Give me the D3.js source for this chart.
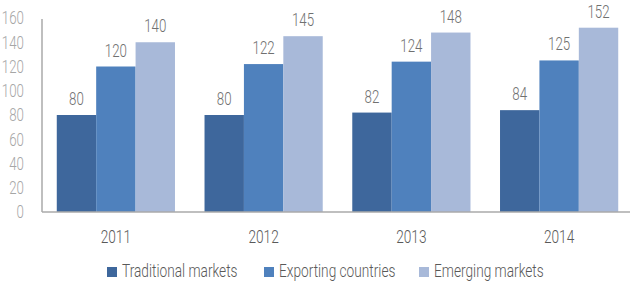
<!DOCTYPE html>
<html>
<head>
<meta charset="utf-8">
<script src="https://cdn.jsdelivr.net/npm/d3@7"></script>
<style>
  body { margin: 0; background: #fff; }
  text { font-family: Roboto, "Noto Sans", sans-serif; font-weight: 300; }
</style>
</head>
<body>
<svg width="630" height="292"></svg>
<script>
// chart data
var years = ['2011', '2012', '2013', '2014'];
var seriesNames = ['Traditional markets', 'Exporting countries', 'Emerging markets'];
var traditional = [80, 80, 82, 84];
var exporting = [120, 122, 124, 125];
var emerging = [140, 145, 148, 152];
var yTicks = [0, 20, 40, 60, 80, 100, 120, 140, 160];

var colors = ['#3e679c', '#4f81bd', '#a8b9d9'];
var series = [traditional, exporting, emerging];

var svg = d3.select('svg');
var padding = {t: 18, r: -3, b: 80, l: 42};
var svgWidth = +svg.attr('width');
var squeeze = 0.76; // condensed look

var x0 = d3.scaleBand()
    .domain(years)
    .range([padding.l, svgWidth - padding.r])
    .paddingInner(0.2)
    .paddingOuter(0.1);

var x1 = d3.scaleBand()
    .domain(d3.range(series.length))
    .range([0, x0.bandwidth()]);

var y = d3.scaleLinear()
    .domain([0, 160])
    .range([212, 18]);

// y tick labels
svg.append('g').selectAll('text')
    .data(yTicks)
    .enter().append('text')
    .attr('x', 24)
    .attr('y', function(d) { return y(d); })
    .attr('dy', '0.36em')
    .attr('text-anchor', 'end')
    .attr('fill', '#a6a6a6')
    .style('font-size', '17.5px')
    .text(function(d) { return d; });

// bars
var groups = svg.append('g').selectAll('g')
    .data(years)
    .enter().append('g')
    .attr('transform', function(d) { return 'translate(' + x0(d) + ',0)'; });

function cells(d, i) {
    return series.map(function(s, k) { return {k: k, v: s[i]}; });
}

groups.selectAll('rect')
    .data(cells)
    .enter().append('rect')
    .attr('x', function(d) { return x1(d.k); })
    .attr('y', function(d) { return y(d.v); })
    .attr('width', x1.bandwidth())
    .attr('height', function(d) { return y(0) - y(d.v); })
    .attr('fill', function(d) { return colors[d.k]; });

groups.selectAll('text.val')
    .data(cells)
    .enter().append('text')
    .attr('class', 'val')
    .attr('x', function(d) { return x1(d.k) + x1.bandwidth() / 2; })
    .attr('y', function(d) { return y(d.v) - 10; })
    .attr('text-anchor', 'middle')
    .attr('fill', '#707070')
    .style('font-size', '17.5px')
    .text(function(d) { return d.v; });

// axes lines
svg.append('line')
    .attr('x1', padding.l).attr('x2', padding.l)
    .attr('y1', 19).attr('y2', y(0))
    .attr('stroke', '#aaa').attr('stroke-width', 1.5);
svg.append('line')
    .attr('x1', padding.l).attr('x2', svgWidth)
    .attr('y1', y(0)).attr('y2', y(0))
    .attr('stroke', '#aaa').attr('stroke-width', 1.5);

// year labels
svg.append('g').selectAll('text')
    .data(years)
    .enter().append('text')
    .attr('x', function(d) { return x0(d) + x0.bandwidth() / 2; })
    .attr('y', 243)
    .attr('text-anchor', 'middle')
    .attr('fill', '#595959')
    .style('font-size', '18px')
    .text(function(d) { return d; });

// legend
var legendX = [107, 264, 419];
var legend = svg.append('g').selectAll('g')
    .data(seriesNames)
    .enter().append('g')
    .attr('transform', function(d, i) { return 'translate(' + legendX[i] + ',267)'; });
legend.append('rect')
    .attr('width', 10).attr('height', 10)
    .attr('fill', function(d, i) { return colors[i]; });
legend.append('text')
    .attr('x', 15)
    .attr('y', 10)
    .attr('fill', '#595959')
    .style('font-size', '18px')
    .text(function(d) { return d; });

// narrow every label to mimic the condensed face
svg.selectAll('text').each(function() {
    var w = this.getComputedTextLength();
    d3.select(this)
        .attr('textLength', w * squeeze)
        .attr('lengthAdjust', 'spacingAndGlyphs');
});
</script>
</body>
</html>
